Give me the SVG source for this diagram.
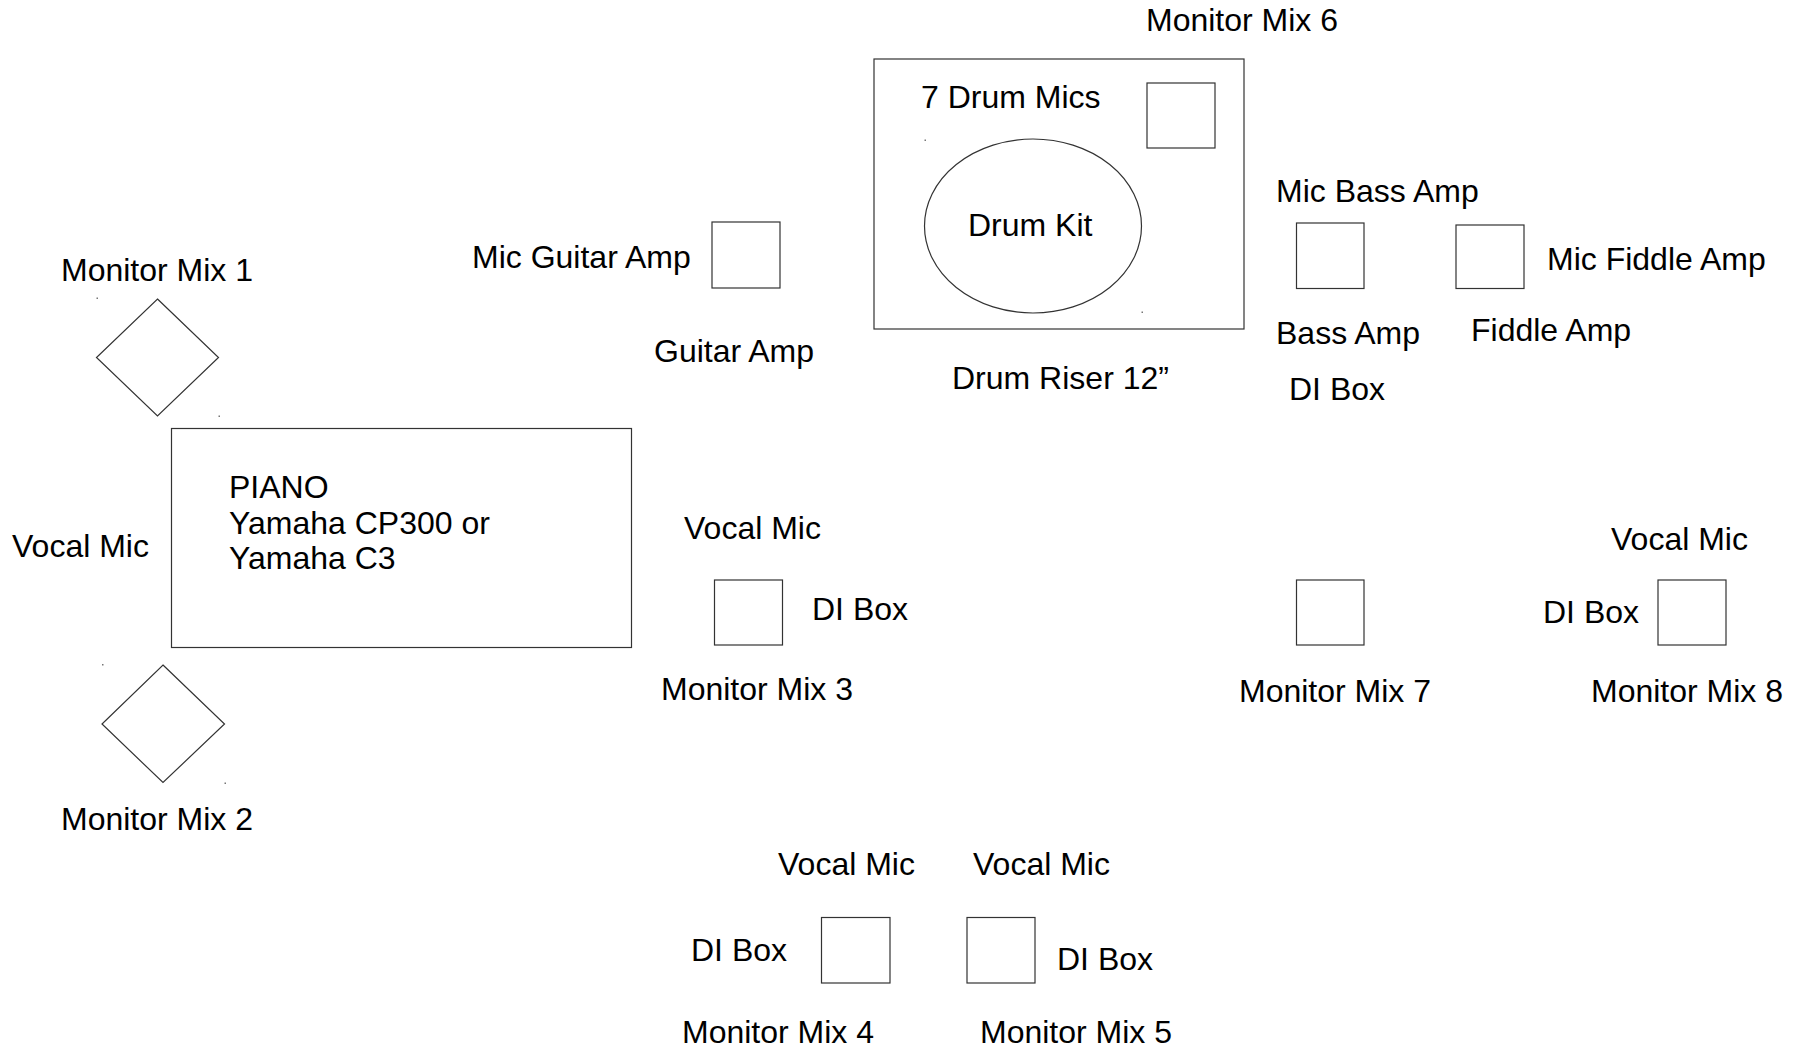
<svg xmlns="http://www.w3.org/2000/svg" width="1811" height="1050" viewBox="0 0 1811 1050">
<style>
  text { font-family: "Liberation Sans", Arial, sans-serif; font-size: 32px; fill: #000; }
  .shape { fill: #fff; stroke: #333; stroke-width: 1.2; }
  .dot { fill: #777; }
</style>
<rect x="0" y="0" width="1811" height="1050" fill="#fff"/>

<g id="drum-riser">
  <rect class="shape" x="874" y="59" width="370" height="270"/>
  <text x="952" y="389">Drum Riser 12”</text>
</g>
<g id="drum-kit">
  <ellipse class="shape" cx="1033" cy="226" rx="108.5" ry="87"/>
  <rect class="dot" x="924.5" y="139.5" width="1.5" height="1.5"/>
  <rect class="dot" x="1141.5" y="311.5" width="1.5" height="1.5"/>
  <text x="968" y="236">Drum Kit</text>
</g>
<g id="drum-mics">
  <text x="921" y="108">7 Drum Mics</text>
</g>
<g id="monitor-mix-6">
  <rect class="shape" x="1147" y="83" width="68" height="65"/>
  <text x="1146" y="31">Monitor Mix 6</text>
</g>

<g id="guitar-amp">
  <rect class="shape" x="712" y="222" width="68" height="66"/>
  <text x="472" y="268">Mic Guitar Amp</text>
  <text x="654" y="362">Guitar Amp</text>
</g>

<g id="bass-amp">
  <rect class="shape" x="1296.5" y="223" width="67.5" height="65.5"/>
  <text x="1276" y="202">Mic Bass Amp</text>
  <text x="1276" y="344">Bass Amp</text>
  <text x="1289" y="400">DI Box</text>
</g>

<g id="fiddle-amp">
  <rect class="shape" x="1456" y="225" width="68" height="63.5"/>
  <text x="1547" y="270">Mic Fiddle Amp</text>
  <text x="1471" y="341">Fiddle Amp</text>
</g>

<g id="monitor-mix-1">
  <polygon class="shape" points="157.5,299 218.5,357.5 157.5,416 96.5,357.5"/>
  <rect class="dot" x="96.5" y="297.5" width="1.5" height="1.5"/>
  <rect class="dot" x="218.5" y="415.5" width="1.5" height="1.5"/>
  <text x="61" y="281">Monitor Mix 1</text>
</g>

<g id="piano">
  <rect class="shape" x="171.5" y="428.5" width="460" height="219"/>
  <text x="229" y="498">PIANO</text>
  <text x="229" y="533.5">Yamaha CP300 or</text>
  <text x="229" y="569">Yamaha C3</text>
</g>
<g id="vocal-mic-left">
  <text x="12" y="557">Vocal Mic</text>
</g>

<g id="monitor-mix-2">
  <polygon class="shape" points="163,665 224.5,724 163,782.5 102,724"/>
  <rect class="dot" x="102" y="664" width="1.5" height="1.5"/>
  <rect class="dot" x="224.5" y="782.5" width="1.5" height="1.5"/>
  <text x="61" y="830">Monitor Mix 2</text>
</g>

<g id="monitor-mix-3">
  <rect class="shape" x="714.5" y="580" width="68" height="65"/>
  <text x="684" y="539">Vocal Mic</text>
  <text x="812" y="620">DI Box</text>
  <text x="661" y="700">Monitor Mix 3</text>
</g>

<g id="monitor-mix-7">
  <rect class="shape" x="1296.5" y="580" width="67.5" height="65"/>
  <text x="1239" y="702">Monitor Mix 7</text>
</g>

<g id="monitor-mix-8">
  <rect class="shape" x="1658" y="580" width="68" height="65"/>
  <text x="1611" y="550">Vocal Mic</text>
  <text x="1543" y="623">DI Box</text>
  <text x="1591" y="702">Monitor Mix 8</text>
</g>

<g id="monitor-mix-4">
  <rect class="shape" x="821.5" y="917.5" width="68.5" height="65.5"/>
  <text x="778" y="875">Vocal Mic</text>
  <text x="691" y="961">DI Box</text>
  <text x="682" y="1043">Monitor Mix 4</text>
</g>

<g id="monitor-mix-5">
  <rect class="shape" x="967" y="917.5" width="68" height="65.5"/>
  <text x="973" y="875">Vocal Mic</text>
  <text x="1057" y="970">DI Box</text>
  <text x="980" y="1043">Monitor Mix 5</text>
</g>

<g id="connectors"></g>
</svg>
